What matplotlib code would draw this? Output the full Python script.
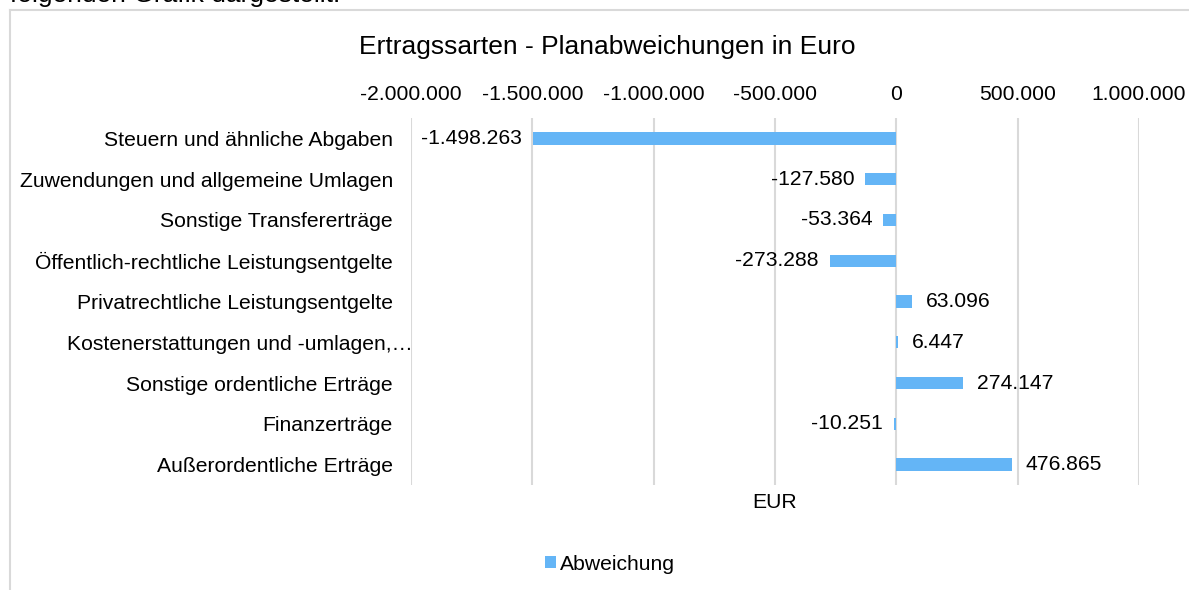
import matplotlib
matplotlib.use("Agg")
import matplotlib.pyplot as plt
from matplotlib.lines import Line2D
from matplotlib.patches import Patch
import matplotlib.transforms as mtransforms

plt.rcParams['font.family'] = ['Liberation Sans', 'DejaVu Sans']

categories = [
    "Steuern und ähnliche Abgaben",
    "Zuwendungen und allgemeine Umlagen",
    "Sonstige Transfererträge",
    "Öffentlich-rechtliche Leistungsentgelte",
    "Privatrechtliche Leistungsentgelte",
    "Kostenerstattungen und -umlagen,…",
    "Sonstige ordentliche Erträge",
    "Finanzerträge",
    "Außerordentliche Erträge",
]
values = [-1498263, -127580, -53364, -273288, 63096, 6447, 274147, -10251, 476865]
xticks = [-2000000, -1500000, -1000000, -500000, 0, 500000, 1000000]
series_name = "Abweichung"
title = "Ertragssarten - Planabweichungen in Euro"
xlabel = "EUR"

def fmt(v):
    s = f"{abs(v):,}".replace(",", ".")
    return ("-" if v < 0 else "") + s

FS = 15.2
W, H = 1189, 590
fig = plt.figure(figsize=(W / 100, H / 100), dpi=100)
ax = fig.add_axes([411 / W, 1 - 485 / H, (1139 - 411) / W, (485 - 118) / H])

bar_color = "#64B5F6"
ypos = list(range(len(categories)))
ax.barh(ypos, values, height=0.3, color=bar_color, zorder=3)

for y, v in zip(ypos, values):
    if v < 0:
        ax.annotate(fmt(v), (v, y), xytext=(-8, 0), textcoords="offset points",
                    ha="right", va="center", fontsize=FS, color="#000000")
    else:
        ax.annotate(fmt(v), (v, y), xytext=(10, 0), textcoords="offset points",
                    ha="left", va="center", fontsize=FS, color="#000000")

ax.set_xlim(xticks[0], xticks[-1])
ax.set_ylim(len(categories) - 0.5, -0.5)
ax.set_xticks(xticks)
ax.set_xticklabels([fmt(t) for t in xticks], fontsize=FS)
ax.set_yticks(ypos)
ax.set_yticklabels(categories, fontsize=FS)
ax.xaxis.tick_top()
ax.xaxis.set_label_position("bottom")
ax.set_xlabel(xlabel, fontsize=FS, labelpad=6)
ax.tick_params(axis="x", length=0, pad=10)
ax.tick_params(axis="y", length=0, pad=13)
for sp in ax.spines.values():
    sp.set_visible(False)
ax.grid(axis="x", color="#D9D9D9", linewidth=1.5, zorder=0)
ax.set_axisbelow(True)

# the truncated label overlaps slightly to the right
lbl = ax.get_yticklabels()[5]
lbl.set_transform(lbl.get_transform() + mtransforms.ScaledTranslation(20 / 100, 0, fig.dpi_scale_trans))

fig.text(607 / W, 1 - 47 / H, title, ha="center", va="center", fontsize=19)

leg = fig.legend(handles=[Patch(facecolor=bar_color, label=series_name)],
                 loc="center", bbox_to_anchor=(610 / W, 1 - 564 / H), frameon=False,
                 fontsize=FS, handlelength=0.5, handleheight=0.5, handletextpad=0.2)

# surrounding frame of the embedded chart and cut-off document text
fig.add_artist(Line2D([10 / W, 10 / W], [0, 1 - 10 / H], transform=fig.transFigure,
                      color="#D9D9D9", linewidth=1.5))
fig.add_artist(Line2D([10 / W, 1], [1 - 10 / H, 1 - 10 / H], transform=fig.transFigure,
                      color="#D9D9D9", linewidth=1.5))
fig.text(10 / W, 1 - 7 / H, "folgenden Grafik dargestellt.", ha="left", va="bottom", fontsize=19)

fig.savefig("out.png", dpi=100)
